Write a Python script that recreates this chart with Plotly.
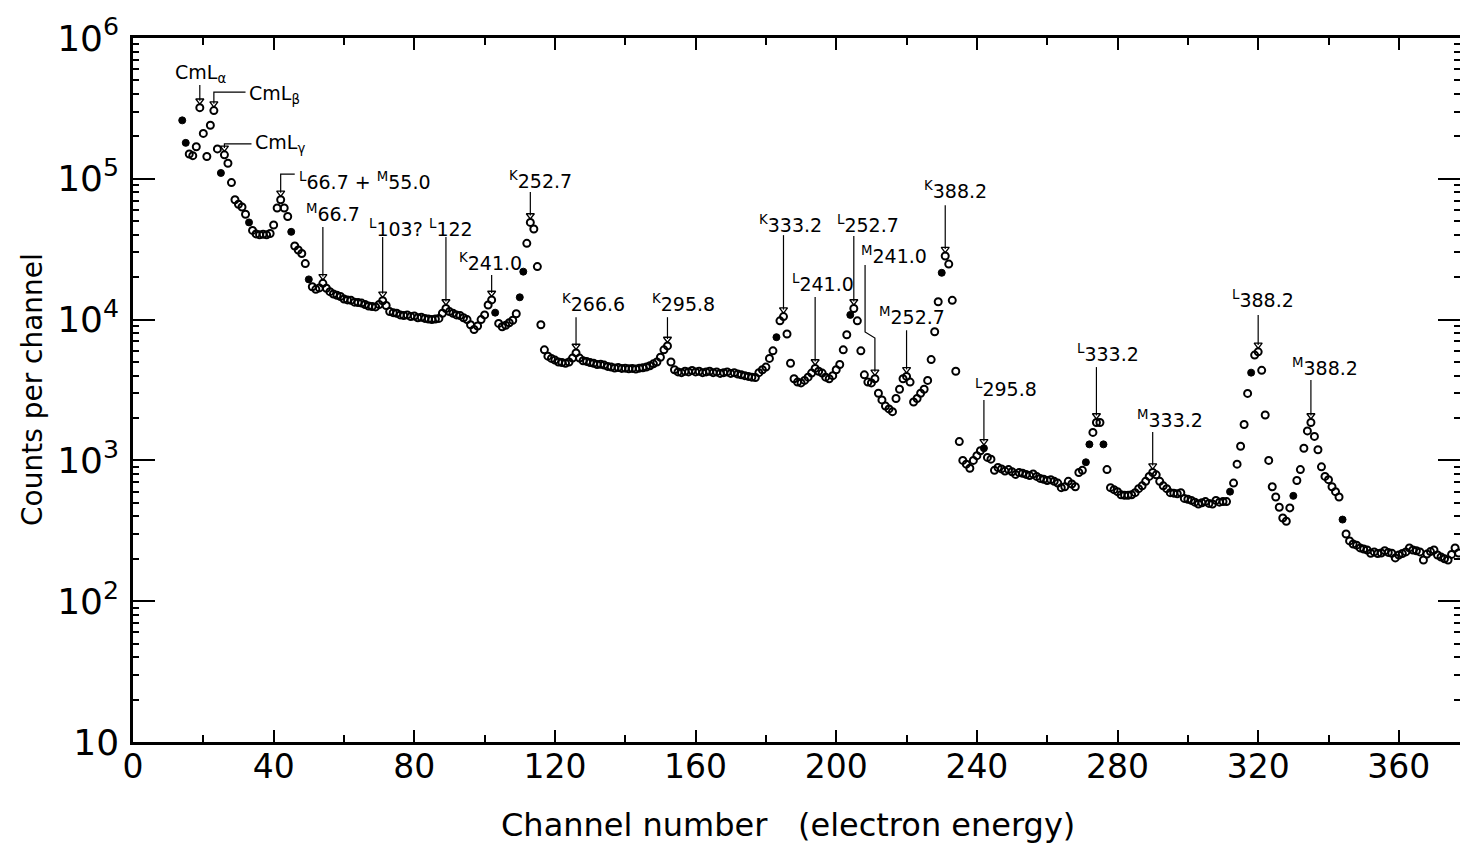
import math
import plotly.graph_objects as go

# Electron spectrum: counts recorded in each analyser channel
FIRST_CHANNEL = 14
COUNTS = [
    260000, 180000, 150000, 146000, 169000, 320000, 210000, 144000, 240000, 305000,   # 14-23
    163000, 110000, 148000, 129000, 94000, 71000, 66000, 63000, 56000, 49000,         # 24-33
    43000, 40600, 40000, 40300, 40000, 40900, 47000, 62000, 71000, 62000,             # 34-43
    54000, 42000, 33300, 31200, 29500, 25000, 19300, 17100, 16400, 16800,             # 44-53
    18100, 16700, 15800, 15200, 14900, 14600, 14000, 13800, 13700, 13300,             # 54-63
    13200, 13100, 12800, 12500, 12400, 12300, 12800, 13600, 12600, 11400,             # 64-73
    11200, 11100, 10800, 10700, 10800, 10500, 10600, 10300, 10400, 10200,             # 74-83
    10100, 10000, 10100, 10200, 11100, 12000, 11400, 11100, 10800, 10700,             # 84-93
    10300, 10000, 9200, 8500, 9000, 10000, 10800, 12700, 13800, 11200,                # 94-103
    9400, 8900, 9100, 9500, 9900, 11000, 14400, 21900, 34800, 49000,                  # 104-113
    44000, 23800, 9200, 6100, 5500, 5300, 5160, 5000, 4950, 4900,                     # 114-123
    5000, 5330, 5800, 5330, 5100, 5050, 4950, 4900, 4800, 4820,                       # 124-133
    4750, 4650, 4600, 4530, 4560, 4500, 4520, 4480, 4500, 4460,                       # 134-143
    4520, 4550, 4600, 4700, 4850, 5000, 5400, 6100, 6500, 5000,                       # 144-153
    4400, 4250, 4200, 4300, 4250, 4350, 4250, 4300, 4200, 4250,                       # 154-163
    4300, 4200, 4250, 4150, 4200, 4250, 4150, 4200, 4100, 4050,                       # 164-173
    4000, 3950, 3900, 3880, 4200, 4400, 4600, 5300, 6000, 7500,                       # 174-183
    9800, 10500, 7900, 4900, 3800, 3600, 3550, 3700, 3900, 4170,                      # 184-193
    4500, 4300, 4170, 3900, 3800, 4000, 4400, 4800, 6100, 7800,                       # 194-203
    10800, 12000, 9800, 6000, 4050, 3600, 3550, 3800, 3000, 2690,                     # 204-213
    2430, 2320, 2220, 2750, 3200, 3800, 3950, 3600, 2600, 2750,                       # 214-223
    3000, 3200, 3700, 5200, 8200, 13400, 21500, 28300, 24800, 13700,                  # 224-233
    4300, 1360, 1000, 940, 880, 1000, 1080, 1170, 1220, 1050,                         # 234-243
    1020, 850, 890, 870, 840, 860, 830, 795, 820, 810,                                # 244-253
    795, 780, 800, 770, 745, 735, 720, 730, 710, 690,                                 # 254-263
    640, 650, 710, 680, 650, 820, 850, 970, 1300, 1580,                               # 264-273
    1860, 1860, 1300, 860, 640, 620, 600, 570, 565, 565,                              # 274-283
    570, 590, 630, 660, 710, 770, 820, 790, 710, 660,                                 # 284-293
    630, 590, 585, 580, 590, 537, 530, 520, 505, 490,                                 # 294-303
    500, 510, 495, 490, 520, 505, 510, 510, 600, 690,                                 # 304-313
    940, 1260, 1800, 2990, 4200, 5600, 5900, 4360, 2100, 1000,                        # 314-323
    650, 550, 465, 390, 370, 460, 560, 720, 860, 1220,                                # 324-333
    1620, 1860, 1480, 1190, 900, 770, 730, 650, 600, 550,                             # 334-343
    380, 300, 268, 255, 250, 239, 235, 231, 219, 224,                                 # 344-353
    218, 220, 228, 222, 219, 203, 213, 218, 224, 239,                                 # 354-363
    231, 228, 224, 196, 216, 225, 231, 213, 206, 200,                                 # 364-373
    196, 215, 239, 220,                                                               # 374-377
]
CHANNELS = list(range(FIRST_CHANNEL, FIRST_CHANNEL + len(COUNTS)))

# channels whose dots print solid rather than open
SOLID_CHANNELS = [14, 15, 25, 33, 45, 50, 103, 110, 111, 183, 204, 230,
                  242, 271, 272, 276, 312, 318, 330, 344]

X_TICKS = [0, 40, 80, 120, 160, 200, 240, 280, 320, 360]
Y_TICKS = [1e1, 1e2, 1e3, 1e4, 1e5, 1e6]
Y_TICK_TEXT = ["10", "10<sup>2</sup>", "10<sup>3</sup>", "10<sup>4</sup>",
               "10<sup>5</sup>", "10<sup>6</sup>"]
DECADES = [1, 2, 3, 4, 5]
MINOR_DIGITS = [2, 3, 4, 5, 6, 7, 8, 9]
LONG_MINOR_DIGITS = [2, 5]

# Line identifications: label text, label start (channel, counts),
# the channel of the marked peak, and the guide path drawn before the arrow.
PEAK_LABELS = [
    ("CmL<sub>α</sub>", 11.4, 5.64e5, 19, [(19, 4.63e5)]),
    ("CmL<sub>β</sub>", 32.4, 4.0e5, 23, [(32, 4.13e5), (23, 4.13e5)]),
    ("CmL<sub>γ</sub>", 34.1, 1.79e5, 26, [(33.7, 1.77e5), (26, 1.77e5)]),
    ("<sup>L</sup>66.7 + <sup>M</sup>55.0", 46.6, 9.64e4, 42, [(46, 1.08e5), (42, 1.08e5)]),
    ("<sup>M</sup>66.7", 48.6, 5.71e4, 54, [(54, 4.55e4)]),
    ("<sup>L</sup>103?", 66.6, 4.48e4, 71, [(71, 3.86e4)]),
    ("<sup>L</sup>122", 83.6, 4.48e4, 89, [(89, 3.86e4)]),
    ("<sup>K</sup>241.0", 92.2, 2.56e4, 102, [(102, 2.07e4)]),
    ("<sup>K</sup>252.7", 106.4, 9.8e4, 113, [(113, 8.05e4)]),
    ("<sup>K</sup>266.6", 121.4, 1.31e4, 126, [(126, 1.04e4)]),
    ("<sup>K</sup>295.8", 147.0, 1.31e4, 152, [(152, 1.04e4)]),
    ("<sup>K</sup>333.2", 177.5, 4.78e4, 185, [(185, 3.98e4)]),
    ("<sup>L</sup>241.0", 186.9, 1.82e4, 194, [(194, 1.45e4)]),
    ("<sup>L</sup>252.7", 199.7, 4.78e4, 205, [(205, 3.93e4)]),
    ("<sup>M</sup>241.0", 206.5, 2.88e4, 211,
     [(208.2, 2.44e4), (208.2, 8.17e3), (211, 7.4e3)]),
    ("<sup>M</sup>252.7", 211.6, 1.06e4, 220, [(220, 8.4e3)]),
    ("<sup>K</sup>388.2", 224.4, 8.3e4, 231, [(231, 6.5e4)]),
    ("<sup>L</sup>295.8", 238.9, 3.27e3, 242, [(242, 2.69e3)]),
    ("<sup>L</sup>333.2", 267.9, 5.8e3, 274, [(274, 4.6e3)]),
    ("<sup>M</sup>333.2", 285.0, 1.97e3, 290, [(290, 1.59e3)]),
    ("<sup>L</sup>388.2", 312.0, 1.4e4, 320, [(320, 1.08e4)]),
    ("<sup>M</sup>388.2", 329.1, 4.6e3, 335, [(335, 3.72e3)]),
]
ARROW_GAP = 1.12   # arrow tip sits just above the marked point

FONT = "DejaVu Sans"
INK = "black"

fig = go.Figure()

# open dots
open_x = [c for c in CHANNELS if c not in SOLID_CHANNELS]
open_y = [COUNTS[c - FIRST_CHANNEL] for c in open_x]
fig.add_trace(go.Scatter(
    x=open_x, y=open_y, mode="markers", hoverinfo="skip",
    marker=dict(symbol="circle-open", size=7, color=INK, line=dict(width=2, color=INK)),
))
# solid dots
solid_y = [COUNTS[c - FIRST_CHANNEL] for c in SOLID_CHANNELS]
fig.add_trace(go.Scatter(
    x=SOLID_CHANNELS, y=solid_y, mode="markers", hoverinfo="skip",
    marker=dict(symbol="circle", size=7, color=INK, line=dict(width=1, color=INK)),
))

# guide lines and arrowheads for the identified lines
guide_x, guide_y, tip_x, tip_y = [], [], [], []
annotations = []
for text, tx, ty, peak_ch, path in PEAK_LABELS:
    tip = COUNTS[peak_ch - FIRST_CHANNEL] * ARROW_GAP
    for px, py in path:
        guide_x.append(px)
        guide_y.append(py)
    guide_x.extend([peak_ch, None])
    guide_y.extend([tip, None])
    tip_x.append(peak_ch)
    tip_y.append(tip)
    annotations.append(dict(
        x=tx, y=math.log10(ty), xref="x", yref="y", text=text, showarrow=False,
        xanchor="left", yanchor="middle", font=dict(family=FONT, size=19, color=INK),
    ))

fig.add_trace(go.Scatter(
    x=guide_x, y=guide_y, mode="lines", hoverinfo="skip",
    line=dict(color=INK, width=1.2),
))
fig.add_trace(go.Scatter(
    x=tip_x, y=tip_y, mode="markers", hoverinfo="skip",
    marker=dict(symbol="triangle-down-open", size=7, color=INK, line=dict(width=1.3, color=INK)),
))

# axis titles
annotations.append(dict(
    x=0.4936, y=-0.118, xref="paper", yref="paper", showarrow=False,
    text="Channel number   (electron energy)", xanchor="center", yanchor="middle",
    font=dict(family=FONT, size=32, color=INK),
))
annotations.append(dict(
    x=-0.0761, y=0.5, xref="paper", yref="paper", showarrow=False, textangle=-90,
    text="Counts per channel", xanchor="center", yanchor="middle",
    font=dict(family=FONT, size=28, color=INK),
))

# longer ticks at 2 and 5 of every decade, on both vertical edges
shapes = []
for d in DECADES:
    for m in LONG_MINOR_DIGITS:
        ly = math.log10(m * 10 ** d)
        for anchor, length in ((0, 13), (1, -13)):
            shapes.append(dict(
                type="line", xref="paper", xsizemode="pixel", xanchor=anchor,
                x0=0, x1=length, yref="y", y0=ly, y1=ly,
                line=dict(color=INK, width=1.8),
            ))

minor_y = [m * 10 ** d for d in DECADES for m in MINOR_DIGITS]

fig.update_layout(
    width=1460, height=844,
    margin=dict(l=133, r=0, t=38, b=102, pad=0, autoexpand=False),
    paper_bgcolor="white", plot_bgcolor="white",
    showlegend=False, hovermode=False,
    font=dict(family=FONT, color=INK),
    annotations=annotations,
    shapes=shapes,
    xaxis=dict(
        range=[0, 377.4], tickmode="array", tickvals=X_TICKS,
        ticks="inside", ticklen=12, tickwidth=2, tickcolor=INK,
        showline=True, linewidth=2.5, linecolor=INK, mirror="ticks",
        showgrid=False, zeroline=False, ticklabelstandoff=-6,
        tickfont=dict(family=FONT, size=33, color=INK),
        minor=dict(tick0=0, dtick=20, ticks="inside", ticklen=7, tickwidth=1.6,
                   tickcolor=INK, showgrid=False),
    ),
    yaxis=dict(
        type="log", range=[1, 6], tickmode="array", tickvals=Y_TICKS, ticktext=Y_TICK_TEXT,
        ticks="inside", ticklen=22, tickwidth=2, tickcolor=INK,
        showline=True, linewidth=2.5, linecolor=INK, mirror="ticks",
        showgrid=False, zeroline=False, ticklabelstandoff=4,
        tickfont=dict(family=FONT, size=36, color=INK),
        minor=dict(tickmode="array", tickvals=minor_y, ticks="inside", ticklen=6,
                   tickwidth=1.5, tickcolor=INK, showgrid=False),
    ),
)

fig.write_html("out.html")
